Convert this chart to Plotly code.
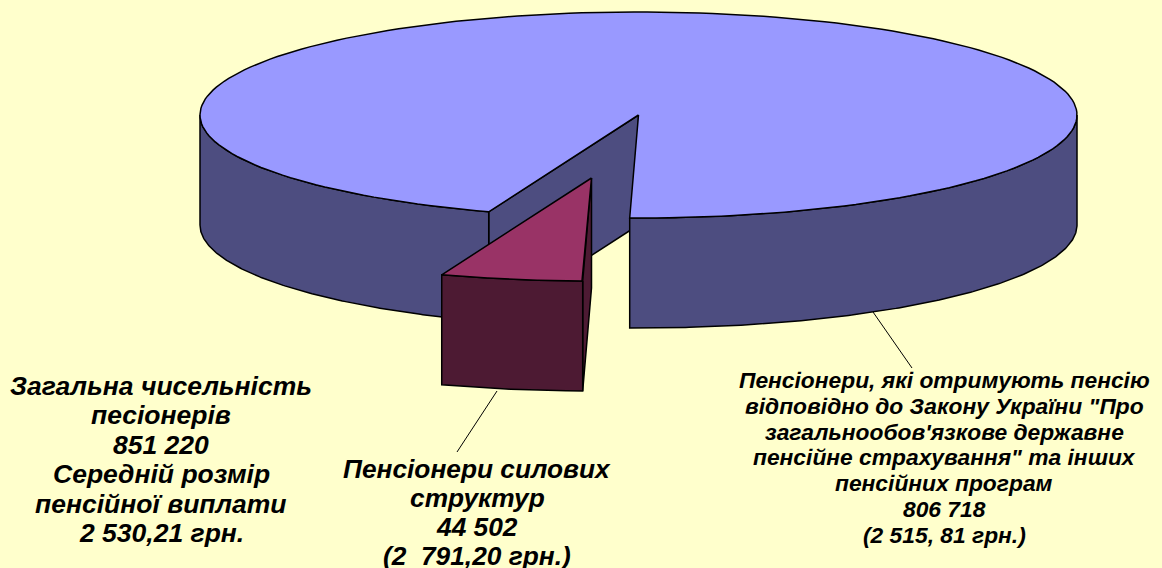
import numpy as np
import plotly.graph_objects as go

# values from the picture
slice_names = ["Пенсіонери, які отримують пенсію", "Пенсіонери силових структур"]
slice_values = [806718, 44502]
total_value = 851220

# fake 3d pie geometry, in pixels
CX, CY = 638.5, 115
RX, RY = 438.5, 103
DEPTH = 110
START_ANGLE = 1.15  # degrees from the front, going clockwise
EXPLODE_X, EXPLODE_Y = -47, 63

BG = "#FFFFCC"
BIG_TOP, BIG_WALL = "#9999FF", "#4D4D80"
SMALL_TOP, SMALL_WALL = "#993366", "#4D1A33"

FONT = "Liberation Sans"

left_label = ["Загальна чисельність", "песіонерів", "851 220", "Середній розмір",
              "пенсійної виплати", "2 530,21 грн."]
mid_label = ["Пенсіонери силових", "структур", "44 502", "(2  791,20 грн.)"]
right_label = ["Пенсіонери, які отримують пенсію", "відповідно до Закону України \"Про",
               "загальнообов'язкове державне", "пенсійне страхування\" та інших",
               "пенсійних програм", "806 718", "(2 515, 81 грн.)"]


def arc(a_from, a_to, dx=0, dy=0):
    a = np.radians(np.linspace(a_from, a_to, 200))
    return CX + dx - RX * np.sin(a), CY + dy + RY * np.cos(a)


def face(fig, xs, ys, color):
    fig.add_trace(go.Scatter(x=np.round(xs, 2), y=np.round(ys, 2), mode="lines", fill="toself",
                             fillcolor=color, line=dict(color="black", width=1.5),
                             hoverinfo="skip", showlegend=False))


def outer_wall(fig, a_from, a_to, color, dx=0, dy=0):
    x, y = arc(a_from, a_to, dx, dy)
    face(fig, np.r_[x, x[::-1], x[0]], np.r_[y, y[::-1] + DEPTH, y[0]], color)


small_sweep = 360 * slice_values[1] / sum(slice_values)
a0 = START_ANGLE
a1 = START_ANGLE + small_sweep

fig = go.Figure()

# inside wall of the big slice, seen through the gap
ex, ey = arc(a1, a1)
face(fig, [CX, ex[0], ex[0], CX, CX], [CY, ey[0], ey[0] + DEPTH, CY + DEPTH, CY], BIG_WALL)

# big slice, front walls left and right of the gap
outer_wall(fig, a1, 90, BIG_WALL)
outer_wall(fig, -90, a0, BIG_WALL)

# big slice top
x, y = arc(a1, 360 + a0)
face(fig, np.r_[CX, x, CX], np.r_[CY, y, CY], BIG_TOP)

# small slice: side wall, front wall, top
ex, ey = arc(a0, a0, EXPLODE_X, EXPLODE_Y)
ax, ay = CX + EXPLODE_X, CY + EXPLODE_Y
face(fig, [ax, ex[0], ex[0], ax, ax], [ay, ey[0], ey[0] + DEPTH, ay + DEPTH, ay], SMALL_WALL)
outer_wall(fig, a0, a1, SMALL_WALL, EXPLODE_X, EXPLODE_Y)
x, y = arc(a0, a1, EXPLODE_X, EXPLODE_Y)
face(fig, np.r_[ax, x, ax], np.r_[ay, y, ay], SMALL_TOP)

fig.update_layout(
    width=1162, height=568,
    margin=dict(l=0, r=0, t=0, b=0),
    paper_bgcolor=BG, plot_bgcolor=BG,
    xaxis=dict(range=[0, 1162], visible=False, fixedrange=True),
    yaxis=dict(range=[568, 0], visible=False, fixedrange=True),
    shapes=[
        dict(type="line", x0=873, y0=312, x1=912, y1=368, line=dict(color="black", width=1)),
        dict(type="line", x0=497, y0=391, x1=457, y1=452, line=dict(color="black", width=1)),
    ],
)

# one annotation per line, plotly's own line spacing is too wide here
for lines, xc, y_first, step, size in [(left_label, 161, 386, 29.4, 26.5),
                                       (mid_label, 477, 468.5, 29.3, 26.3),
                                       (right_label, 944, 380, 25.8, 22.8)]:
    for i, line in enumerate(lines):
        fig.add_annotation(x=xc, y=y_first + i * step, text="<b><i>" + line + "</i></b>",
                           showarrow=False, align="center", xanchor="center", yanchor="middle",
                           font=dict(family=FONT, size=size, color="black"))

fig.write_html("out.html", config={"displayModeBar": False},
               post_script="document.body.style.margin='0';document.body.style.overflow='hidden';")
